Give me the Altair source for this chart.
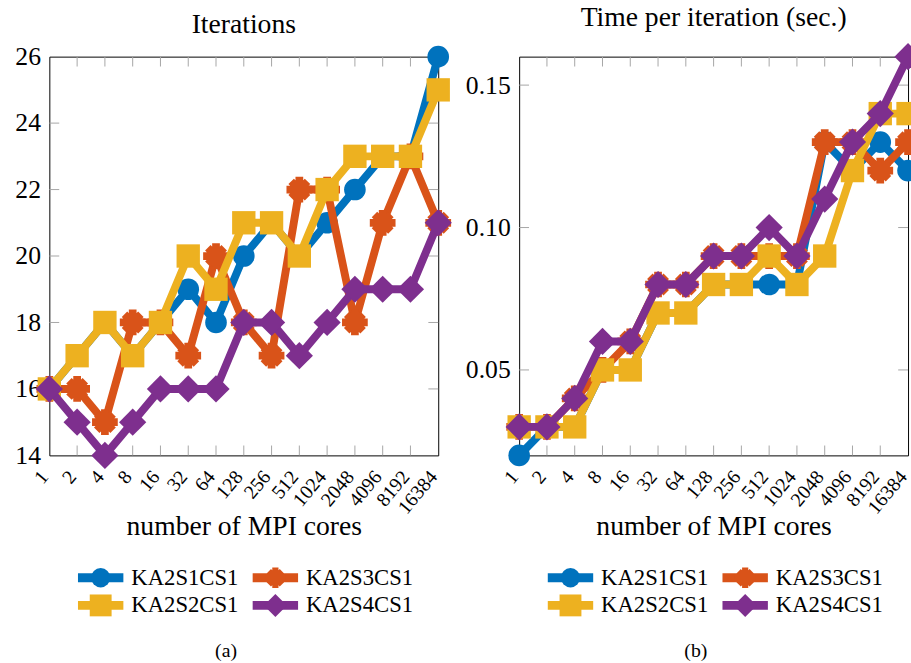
import altair as alt
import pandas as pd

FONT = "Liberation Serif"

# MPI core counts (categorical x axis)
cores = ["1", "2", "4", "8", "16", "32", "64", "128", "256", "512",
         "1024", "2048", "4096", "8192", "16384"]

# Series names in drawing order
series = ["KA2S1CS1", "KA2S3CS1", "KA2S2CS1", "KA2S4CS1"]
colors = ["#0072BD", "#D95319", "#EDB120", "#7E2F8E"]

# Asterisk-like marker: union of a plus, an x and a central octagon
STAR = (
    "M-0.3,-1L0.3,-1L0.3,1L-0.3,1Z"
    "M-1,-0.3L1,-0.3L1,0.3L-1,0.3Z"
    "M0.849,0.424L0.424,0.849L-0.849,-0.424L-0.424,-0.849Z"
    "M0.424,-0.849L0.849,-0.424L-0.424,0.849L-0.849,0.424Z"
    "M0.65,0L0.46,0.46L0,0.65L-0.46,0.46L-0.65,0L-0.46,-0.46L0,-0.65L0.46,-0.46Z"
)
shapes = ["circle", STAR, "square", "diamond"]
sizes = [480, 680, 560, 760]

# Iterations
iter_s1 = [16, 17, 18, 17, 18, 19, 18, 20, 21, 20, 21, 22, 23, 23, 26]
iter_s2 = [16, 17, 18, 17, 18, 20, 19, 21, 21, 20, 22, 23, 23, 23, 25]
iter_s3 = [16, 16, 15, 18, 18, 17, 20, 18, 17, 22, 22, 18, 21, 23, 21]
iter_s4 = [16, 15, 14, 15, 16, 16, 16, 18, 18, 17, 18, 19, 19, 19, 21]

# Time per iteration (sec.)
time_s1 = [0.02, 0.03, 0.03, 0.05, 0.05, 0.07, 0.07, 0.08, 0.08, 0.08, 0.08, 0.13, 0.12, 0.13, 0.12]
time_s2 = [0.03, 0.03, 0.03, 0.05, 0.05, 0.07, 0.07, 0.08, 0.08, 0.09, 0.08, 0.09, 0.12, 0.14, 0.14]
time_s3 = [0.03, 0.03, 0.04, 0.05, 0.06, 0.08, 0.08, 0.09, 0.09, 0.09, 0.09, 0.13, 0.13, 0.12, 0.13]
time_s4 = [0.03, 0.03, 0.04, 0.06, 0.06, 0.08, 0.08, 0.09, 0.09, 0.10, 0.09, 0.11, 0.13, 0.14, 0.16]

iter_ticks = [14, 16, 18, 20, 22, 24, 26]
time_ticks = [0.05, 0.10, 0.15]

# Legend layout (2 columns, filled row-wise)
legend_col = [0, 1, 0, 1]
legend_row = [0, 0, 1, 1]

W, H = 394, 404
LEG_H = 56
TICK_COLOR = "#a6a6a6"


def to_frame(by_series):
    rows = []
    for name in series:
        for c, v in zip(cores, by_series[name]):
            rows.append({"series": name, "cores": c, "value": v})
    return pd.DataFrame(rows)


def text_layer(text, size, x, y):
    return alt.Chart(pd.DataFrame({"t": [text]})).mark_text(
        fontSize=size, font=FONT, color="black", align="center", baseline="alphabetic"
    ).encode(text="t:N", x=alt.value(x), y=alt.value(y))


def panel(by_series, title, ydomain, yticks, yfmt, title_y):
    df = to_frame(by_series)
    xenc = alt.X(
        "cores:O",
        scale=alt.Scale(type="point", padding=0, domain=cores),
        axis=alt.Axis(
            title="number of MPI cores", labelAngle=-50, labelAlign="right",
            labelBaseline="middle", ticks=False, tickSize=0, domain=False,
            labelFontSize=20, labelPadding=18, labelOffset=-5, titleFontSize=28,
            titleFontWeight="normal", titleBaseline="alphabetic", titleY=80,
            labelColor="black", titleColor="black", grid=False,
        ),
    )
    yenc = alt.Y(
        "value:Q",
        scale=alt.Scale(domain=ydomain, nice=False, zero=False),
        axis=alt.Axis(
            values=yticks, format=yfmt, title=None, ticks=False, tickSize=0,
            domain=False, labelFontSize=26, labelPadding=9, labelColor="black",
            grid=False,
        ),
    )
    inner = [t for t in yticks if ydomain[0] < t < ydomain[1]]
    xt = alt.Chart(pd.DataFrame({"cores": cores[1:-1]})).encode(x=xenc)
    yt = alt.Chart(pd.DataFrame({"value": inner})).encode(y=yenc)
    layers = [
        xt.mark_rule(color=TICK_COLOR, strokeWidth=1).encode(y=alt.value(0), y2=alt.value(10)),
        xt.mark_rule(color=TICK_COLOR, strokeWidth=1).encode(y=alt.value(H), y2=alt.value(H - 10)),
        yt.mark_rule(color=TICK_COLOR, strokeWidth=1).encode(x=alt.value(0), x2=alt.value(10)),
        yt.mark_rule(color=TICK_COLOR, strokeWidth=1).encode(x=alt.value(W), x2=alt.value(W - 10)),
    ]
    base = alt.Chart(df).encode(x=xenc, y=yenc)
    for name, col, shp, sz in zip(series, colors, shapes, sizes):
        s = base.transform_filter(alt.datum.series == name)
        layers.append(s.mark_line(color=col, strokeWidth=8, strokeJoin="miter"))
        layers.append(s.mark_point(color=col, filled=True, opacity=1, shape=shp, size=sz))
    layers.append(text_layer(title, 28, W / 2, title_y))
    return alt.layer(*layers).properties(
        width=W, height=H,
        view=alt.ViewBackground(stroke="black", strokeWidth=1),
    )


def legend(caption):
    df = pd.DataFrame({"series": series, "col": legend_col, "row": legend_row})
    enc = dict(
        x=alt.X("col:Q", scale=alt.Scale(domain=[0, 1], range=[52, 229]), axis=None),
        y=alt.Y("row:Q", scale=alt.Scale(domain=[0, 1], range=[14, 42]), axis=None),
        color=alt.Color("series:N", scale=alt.Scale(domain=series, range=colors), legend=None),
    )
    b = alt.Chart(df).encode(**enc)
    line = b.mark_tick(orient="horizontal", size=46, thickness=9, opacity=1)
    pts = b.mark_point(filled=True, opacity=1).encode(
        shape=alt.Shape("series:N", scale=alt.Scale(domain=series, range=shapes), legend=None),
        size=alt.Size("series:N", scale=alt.Scale(domain=series, range=[s * 0.8 for s in sizes]), legend=None),
    )
    txt = b.mark_text(align="left", baseline="middle", dx=31, fontSize=23, font=FONT, color="black").encode(
        text="series:N", color=alt.value("black")
    )
    cap = text_layer(caption, 20, W / 2 - 18, LEG_H + 38)
    return alt.layer(line, pts, txt, cap).properties(
        width=W, height=LEG_H,
        view=alt.ViewBackground(stroke="transparent"),
    )


left = panel(dict(zip(["KA2S1CS1", "KA2S2CS1", "KA2S3CS1", "KA2S4CS1"],
                      [iter_s1, iter_s2, iter_s3, iter_s4])),
             "Iterations", [14, 26], iter_ticks, "d", -24)
right = panel(dict(zip(["KA2S1CS1", "KA2S2CS1", "KA2S3CS1", "KA2S4CS1"],
                       [time_s1, time_s2, time_s3, time_s4])),
              "Time per iteration (sec.)", [0.02, 0.16], time_ticks, ".2f", -31)

chart = alt.hconcat(
    alt.vconcat(left, legend("(a)"), spacing=110, bounds="flush"),
    alt.vconcat(right, legend("(b)"), spacing=110, bounds="flush"),
    spacing=10,
).properties(
    padding={"left": 14, "top": -1, "right": -14, "bottom": 0},
).configure(font=FONT).configure_view(stroke="transparent")

chart.save("out.html", embed_options={"renderer": "svg", "actions": False})
